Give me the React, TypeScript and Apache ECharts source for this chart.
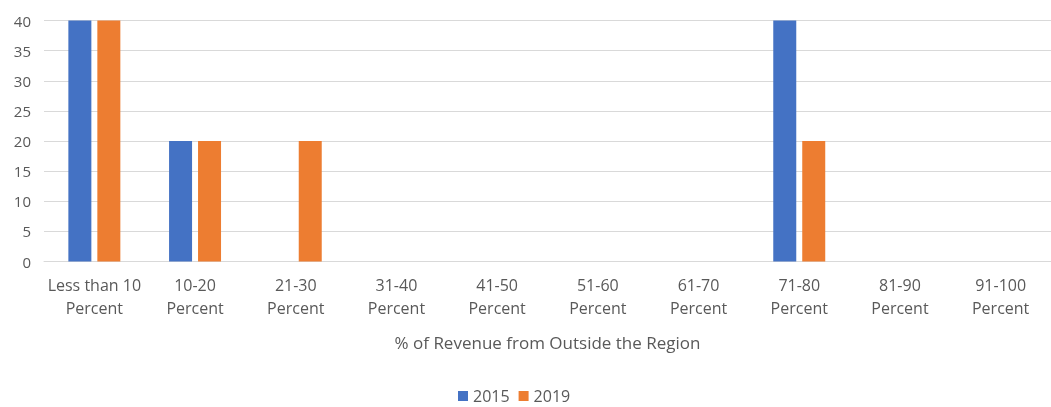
import React, { useEffect, useRef } from "react";
import * as echarts from "echarts";

const categories = [
  "Less than 10\nPercent",
  "10-20\nPercent",
  "21-30\nPercent",
  "31-40\nPercent",
  "41-50\nPercent",
  "51-60\nPercent",
  "61-70\nPercent",
  "71-80\nPercent",
  "81-90\nPercent",
  "91-100\nPercent",
];
const values2015 = [40, 20, 0, 0, 0, 0, 0, 40, 0, 0];
const values2019 = [40, 20, 20, 0, 0, 0, 0, 20, 0, 0];
const xAxisTitle = "% of Revenue from Outside the Region";

const textColor = "#595959";
const font = "'Open Sans', sans-serif";

export default function App() {
  const ref = useRef<HTMLDivElement>(null);
  useEffect(() => {
    if (!ref.current) return;
    const chart = echarts.init(ref.current, null, { renderer: "svg" });
    chart.setOption({
      animation: false,
      textStyle: { fontFamily: font, color: textColor },
      grid: { left: 44, right: -10, top: 20.5, bottom: 145.5, containLabel: false },
      legend: {
        top: 388,
        left: 458,
        itemWidth: 10,
        itemHeight: 10,
        icon: "rect",
        itemGap: 9,
        itemTextGap: 5,
        padding: 0,
        textStyle: { fontSize: 16, color: textColor, fontFamily: font },
        data: ["2015", "2019"],
      },
      xAxis: {
        type: "category",
        data: categories,
        name: xAxisTitle,
        nameLocation: "middle",
        nameGap: 72,
        nameTextStyle: { fontSize: 17, color: textColor, fontFamily: font },
        axisLine: { lineStyle: { color: "#d9d9d9" } },
        axisTick: { show: false },
        axisLabel: {
          interval: 0,
          fontSize: 16,
          color: textColor,
          fontFamily: font,
          lineHeight: 23,
          margin: 12,
        },
      },
      yAxis: {
        type: "value",
        min: 0,
        max: 40,
        interval: 5,
        axisLine: { show: false },
        axisTick: { show: false },
        splitLine: { lineStyle: { color: "#d9d9d9" } },
        axisLabel: { fontSize: 15, color: textColor, fontFamily: font, margin: 13 },
      },
      series: [
        {
          name: "2015",
          type: "bar",
          data: values2015,
          barWidth: 23,
          barGap: "26%",
          itemStyle: { color: "#4472C4" },
        },
        {
          name: "2019",
          type: "bar",
          data: values2019,
          barWidth: 23,
          barGap: "26%",
          itemStyle: { color: "#ED7D31" },
        },
      ],
    });
    return () => chart.dispose();
  }, []);
  return (
    <div
      ref={ref}
      style={{ position: "fixed", left: 0, top: 0, width: 1051, height: 407 }}
    />
  );
}
